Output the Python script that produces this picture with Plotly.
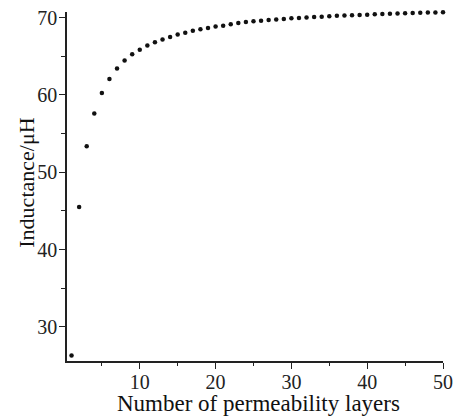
import plotly.graph_objects as go

layers = list(range(1, 51))
inductance = [26.3, 45.5, 53.35, 57.6, 60.25, 62.05, 63.4, 64.45, 65.25, 65.85,
              66.4, 66.8, 67.15, 67.5, 67.8, 68.05, 68.3, 68.5, 68.65, 68.85,
              68.95, 69.15, 69.3, 69.42, 69.52, 69.6, 69.68, 69.76, 69.83, 69.9,
              69.96, 70.02, 70.07, 70.12, 70.17, 70.22, 70.26, 70.3, 70.34, 70.38,
              70.42, 70.45, 70.49, 70.52, 70.55, 70.58, 70.61, 70.64, 70.67, 70.7]

x_ticks = [10, 20, 30, 40, 50]
x_minor = [5, 15, 25, 35, 45]
y_ticks = [30, 40, 50, 60, 70]
y_minor = [35, 45, 55, 65]

FONT = "Liberation Serif"

fig = go.Figure()
fig.add_trace(go.Scatter(x=layers, y=inductance, mode="markers",
                         marker=dict(color="#111111", size=4.5, symbol="circle"),
                         showlegend=False, hoverinfo="x+y", cliponaxis=False))

axis_common = dict(showline=True, linecolor="#222222", linewidth=1.5, showgrid=False,
                   zeroline=False, ticks="outside", ticklen=6, tickwidth=1.3,
                   tickcolor="#222222", mirror=False, automargin=False,
                   tickfont=dict(family=FONT, size=20, color="#222222"))

fig.update_layout(
    template="none",
    width=456, height=417, autosize=False,
    margin=dict(l=66.5, r=13.3, t=11.7, b=56.3, pad=0),
    paper_bgcolor="white", plot_bgcolor="white",
    xaxis=dict(range=[0.4, 50], tickvals=x_ticks, ticklabelstandoff=-4,
               minor=dict(tickvals=x_minor, ticklen=3, ticks="outside", tickcolor="#222222"),
               **axis_common),
    yaxis=dict(range=[25.6, 70.72], tickvals=y_ticks, ticklabelstandoff=-2,
               minor=dict(tickvals=y_minor, ticklen=4, ticks="outside", tickcolor="#222222"),
               **axis_common),
    annotations=[
        dict(text="Number of permeability layers", xref="paper", yref="paper",
             x=0.51, y=-0.122, xanchor="center", yanchor="middle", showarrow=False,
             font=dict(family=FONT, size=23, color="#111111")),
        dict(text="Inductance/μH", xref="paper", yref="paper",
             x=-0.108, y=0.512, xanchor="center", yanchor="middle", showarrow=False,
             textangle=-90, font=dict(family=FONT, size=22, color="#111111")),
    ],
)

fig.write_html("out.html", config={"displayModeBar": False},
               post_script="document.body.style.margin='0';document.body.style.overflow='hidden';")
